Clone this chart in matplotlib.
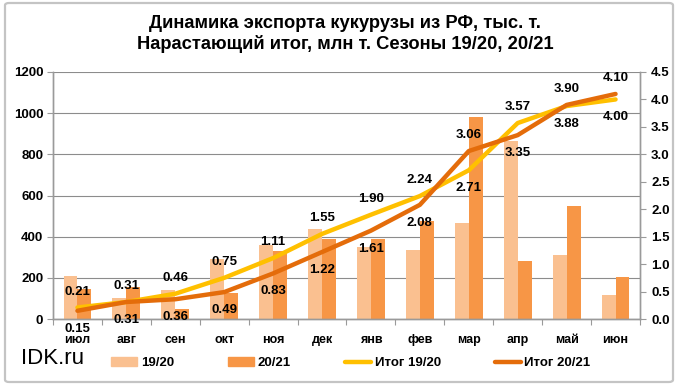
from __future__ import annotations

import matplotlib

matplotlib.use("Agg")
import matplotlib.pyplot as plt
import numpy as np
from matplotlib.lines import Line2D
from matplotlib.patches import FancyBboxPatch, Patch

MONTHS = ["июл", "авг", "сен", "окт", "ноя", "дек", "янв", "фев", "мар", "апр", "май", "июн"]

# monthly export, thousand tonnes
EXPORT_1920 = [209, 102, 141, 291, 360, 437, 350, 336, 466, 863, 312, 118]
EXPORT_2021 = [146, 155, 49, 126, 330, 389, 389, 474, 980, 283, 550, 202]

# running total, million tonnes
TOTAL_1920 = [0.21, 0.31, 0.46, 0.75, 1.11, 1.55, 1.90, 2.24, 2.71, 3.57, 3.88, 4.00]
TOTAL_2021 = [0.15, 0.31, 0.36, 0.49, 0.83, 1.22, 1.61, 2.08, 3.06, 3.35, 3.90, 4.10]

TITLE = "Динамика экспорта кукурузы из РФ, тыс. т.\nНарастающий итог, млн т. Сезоны 19/20, 20/21"

LIGHT = "#FAC090"
DARK = "#F79646"
YELLOW = "#FFC000"
ORANGE = "#E46C0A"
GREY = "#9a9a9a"

plt.rcParams["font.family"] = ["Liberation Sans", "DejaVu Sans"]

W, H = 682, 389
fig = plt.figure(figsize=(W / 100, H / 100), dpi=100)
ax = fig.add_axes((53 / W, 1 - 319 / H, (640 - 53) / W, (319 - 72) / H))
ax2 = ax.twinx()

# outer chart frame
fig.patches.append(
    FancyBboxPatch(
        (5 / W, 1 - 382 / H), 668 / W, 379 / H,
        boxstyle="round,pad=0,rounding_size=0.006",
        transform=fig.transFigure, fill=False, edgecolor="#c4c4c4", linewidth=1.6,
    )
)

x = np.arange(len(MONTHS))
bw = 0.285
ax.bar(x - bw / 2, EXPORT_1920, bw, color=LIGHT, zorder=2)
ax.bar(x + bw / 2, EXPORT_2021, bw, color=DARK, zorder=2)

ax.set_xlim(-0.5, len(MONTHS) - 0.5)
ax.set_ylim(0, 1200)
ax.set_yticks(range(0, 1201, 200))
ax.grid(axis="y", color="#8c8c8c", linewidth=0.8, zorder=0)
ax.set_axisbelow(True)

# ticks between categories, labels at centres
ax.set_xticks(np.arange(-0.5, len(MONTHS)), minor=False)
ax.set_xticklabels([])
ax.set_xticks(x, minor=True)
ax.set_xticklabels(MONTHS, minor=True, fontsize=9, fontweight="bold")
ax.tick_params(axis="x", which="major", length=4, color=GREY, direction="out")
ax.tick_params(axis="x", which="minor", length=0, pad=11)
ax.tick_params(axis="y", length=4, color=GREY, labelsize=9.5, pad=3)
for label in ax.get_yticklabels():
    label.set_fontweight("bold")

ax2.plot(x, TOTAL_1920, color=YELLOW, linewidth=3.2, solid_capstyle="round", solid_joinstyle="round", zorder=3)
ax2.plot(x, TOTAL_2021, color=ORANGE, linewidth=3.2, solid_capstyle="round", solid_joinstyle="round", zorder=4)
ax2.set_ylim(0, 4.5)
ax2.set_yticks(np.arange(0, 4.51, 0.5))
ax2.set_yticklabels([f"{v:.1f}" for v in np.arange(0, 4.51, 0.5)], fontsize=9.5, fontweight="bold")
ax2.tick_params(axis="y", length=4, color=GREY, pad=4)

for axis in (ax, ax2):
    axis.spines["top"].set_visible(False)
    for side in ("left", "right", "bottom"):
        axis.spines[side].set_color(GREY)
        axis.spines[side].set_linewidth(1.0)

# data labels: higher value above the lines, lower below
for i, (a, b) in enumerate(zip(TOTAL_1920, TOTAL_2021)):
    hi, lo = (a, b) if a >= b else (b, a)
    ax2.annotate(f"{hi:.2f}", (i, hi), xytext=(0, 11.5), textcoords="offset points",
                 ha="center", va="center", fontsize=9.5, fontweight="bold", zorder=6)
    ax2.annotate(f"{lo:.2f}", (i, lo), xytext=(0, -13), textcoords="offset points",
                 ha="center", va="center", fontsize=9.5, fontweight="bold", zorder=6)

fig.text(345 / W, 1 - 34 / H, TITLE, ha="center", va="center", fontsize=13.2,
         fontweight="bold", linespacing=1.15)

fig.text(21 / W, 1 - 358 / H, "IDK.ru", ha="left", va="center", fontsize=16)

handles = [
    Patch(color=LIGHT),
    Patch(color=DARK),
    Line2D([], [], color=YELLOW, linewidth=3.2, solid_capstyle="round"),
    Line2D([], [], color=ORANGE, linewidth=3.2, solid_capstyle="round"),
]
leg = fig.legend(
    handles, ["19/20", "20/21", "Итог 19/20", "Итог 20/21"],
    loc="center left", bbox_to_anchor=(111 / W, 1 - 363 / H), ncol=4, frameon=False,
    borderaxespad=0, borderpad=0, handlelength=2.0, handleheight=0.6,
    handletextpad=0.25, columnspacing=4.1,
    prop={"size": 9.5, "weight": "bold"},
)

fig.savefig("out.png", dpi=100)
